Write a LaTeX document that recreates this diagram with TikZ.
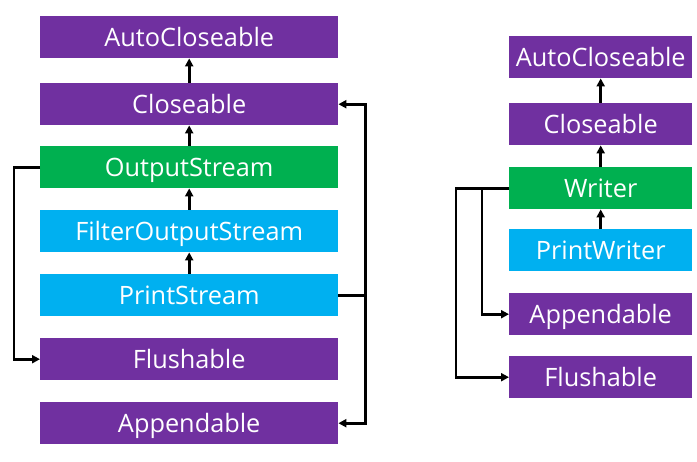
\documentclass[tikz,border=0pt]{standalone}
\usepackage{fontspec}
\setmainfont{Open Sans}
\usetikzlibrary{arrows.meta}
\definecolor{purp}{HTML}{7030A0}
\definecolor{grn}{HTML}{00B050}
\definecolor{blu}{HTML}{00B0F0}
\begin{document}
\begin{tikzpicture}[x=1pt,y=-1pt,
  box/.style={minimum height=42pt, inner sep=0pt, text=white, anchor=north west,
    text height=19pt, text depth=0pt,
    font=\fontsize{25.3}{30}\selectfont},
  lbox/.style={box, minimum width=298pt},
  rbox/.style={box, minimum width=183pt},
  arr/.style={line width=2.8pt, -{Triangle[length=8pt,width=8pt]}},
  ln/.style={line width=2.8pt}]
\useasboundingbox (0,0) rectangle (697,462);
% left column
\node[lbox, fill=purp] (auto)  at (40,16)  {AutoCloseable};
\node[lbox, fill=purp] (close) at (40,83)  {Closeable};
\node[lbox, fill=grn]  (out)   at (40,146) {OutputStream};
\node[lbox, fill=blu]  (fos)   at (40,210) {FilterOutputStream};
\node[lbox, fill=blu]  (ps)    at (40,274) {PrintStream};
\node[lbox, fill=purp] (flush) at (40,338) {Flushable};
\node[lbox, fill=purp] (app)   at (40,402) {Appendable};
\draw[arr] (close.north) -- (auto.south);
\draw[arr] (out.north) -- (close.south);
\draw[arr] (fos.north) -- (out.south);
\draw[arr] (ps.north) -- (fos.south);
\draw[arr] (out.west) -- ++(-26,0) |- (flush.west);
\draw[ln] (ps.east) -- ++(27,0) coordinate (rj);
\draw[arr] (rj) |- (close.east);
\draw[arr] (rj) |- (app.east);
% right column
\node[rbox, fill=purp] (rauto)  at (509,36)  {AutoCloseable};
\node[rbox, fill=purp] (rclose) at (509,103) {Closeable};
\node[rbox, fill=grn]  (writer) at (509,167) {Writer};
\node[rbox, fill=blu]  (pw)     at (509,229) {PrintWriter};
\node[rbox, fill=purp] (rapp)   at (509,293) {Appendable};
\node[rbox, fill=purp] (rflush) at (509,356) {Flushable};
\draw[arr] (rclose.north) -- (rauto.south);
\draw[arr] (writer.north) -- (rclose.south);
\draw[arr] (pw.north) -- (writer.south);
\draw[arr] (writer.west) -- ++(-53,0) |- (rflush.west);
\draw[arr] ([xshift=-27pt]writer.west) |- (rapp.west);
\end{tikzpicture}
\end{document}
